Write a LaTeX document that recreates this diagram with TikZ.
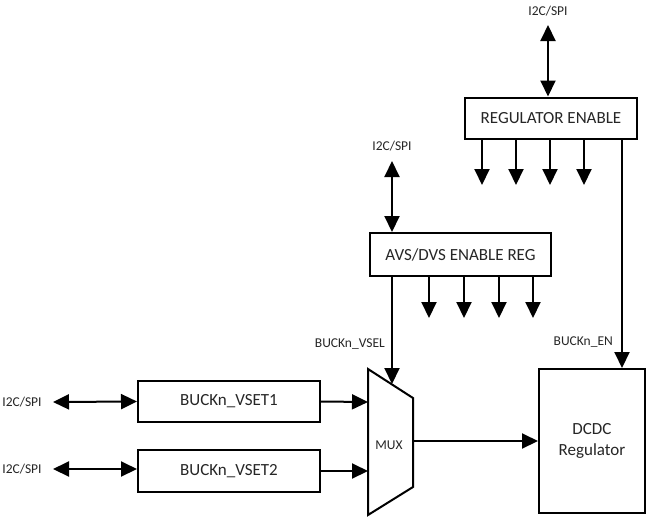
\documentclass[tikz,border=0pt]{standalone}
\usepackage{fontspec}
\setmainfont{Carlito}
\usetikzlibrary{arrows.meta}
\begin{document}
\begin{tikzpicture}[x=1pt,y=-1pt,
  box/.style={draw,line width=2pt,fill=white,inner sep=0pt,font=\fontsize{17}{21}\selectfont,align=center,text=black!85},
  lbl/.style={inner sep=1pt,font=\fontsize{13.5}{16}\selectfont,text=black!85},
  conn/.style={line width=2pt},
  arr/.style={line width=2pt,-{Triangle[length=16pt,width=15pt]}},
  dbl/.style={line width=2pt,{Triangle[length=16pt,width=15pt]}-{Triangle[length=16pt,width=15pt]}}]
\useasboundingbox (0,0) rectangle (648,523);
% boxes
\node[box,minimum width=172pt,minimum height=41pt] (regen) at (551,118) {REGULATOR ENABLE};
\node[box,minimum width=181pt,minimum height=43pt] (avs) at (460.5,254.5) {AVS/DVS ENABLE REG};
\node[box,minimum width=182pt,minimum height=41pt] (vs1) at (229,401.5) {BUCKn\_VSET1};
\node[box,minimum width=182pt,minimum height=42pt] (vs2) at (229,471) {BUCKn\_VSET2};
\node[box,minimum width=106pt,minimum height=144pt] (dcdc) at (592,441) {DCDC\\Regulator};
% mux
\coordinate (mtl) at (368,369);
\coordinate (mtr) at (413,398);
\coordinate (mbr) at (413,487);
\coordinate (mbl) at (368,515);
\draw[line width=2pt,line join=miter] (mtl) -- (mtr) -- (mbr) -- (mbl) -- cycle;
\node[lbl] (mux) at (389,445) {MUX};
\coordinate (muxout) at (413,441);
\coordinate (muxin1) at (368,402);
\coordinate (muxin2) at (368,471);
\coordinate (muxsel) at (392,384);
% labels
\node[lbl] (i2ca) at (548,11) {I2C/SPI};
\node[lbl] (i2cb) at (392,146) {I2C/SPI};
\node[lbl] (i2cc) at (22,402) {I2C/SPI};
\node[lbl] (i2cd) at (22,469) {I2C/SPI};
\node[lbl,anchor=east] (vsel) at (386,344) {BUCKn\_VSEL};
\node[lbl,anchor=east] (en) at (614,342) {BUCKn\_EN};
% bus arrows
\coordinate (ta) at (548,25);
\coordinate (tb) at (392,161);
\coordinate (tc) at (53,402);
\coordinate (td) at (53,469);
\draw[dbl] (ta) -- (ta |- regen.north);
\draw[dbl] (tb) -- (tb |- avs.north);
\draw[dbl] (tc) -- (vs1.west);
\draw[dbl] (td) -- (vs2.west |- td);
% regulator enable outputs
\foreach \x/\n in {482/r1,516/r2,550/r3,584/r4}{
  \coordinate (\n) at (\x,185);
  \draw[arr] (\n |- regen.south) -- (\n);
}
\foreach \x/\n in {429/a1,464/a2,499/a3,533/a4}{
  \coordinate (\n) at (\x,318);
  \draw[arr] (\n |- avs.south) -- (\n);
}
% enables
\coordinate (enx) at (622,0);
\draw[arr] (enx |- regen.south) -- (enx |- dcdc.north);
\draw[arr] (muxsel |- avs.south) -- (muxsel);
% mux inputs/outputs
\draw[arr] (vs1.east) -- (muxin1);
\draw[arr] (vs2.east |- muxin2) -- (muxin2);
\draw[arr] (muxout) -- (muxout -| dcdc.west);
\end{tikzpicture}
\end{document}
